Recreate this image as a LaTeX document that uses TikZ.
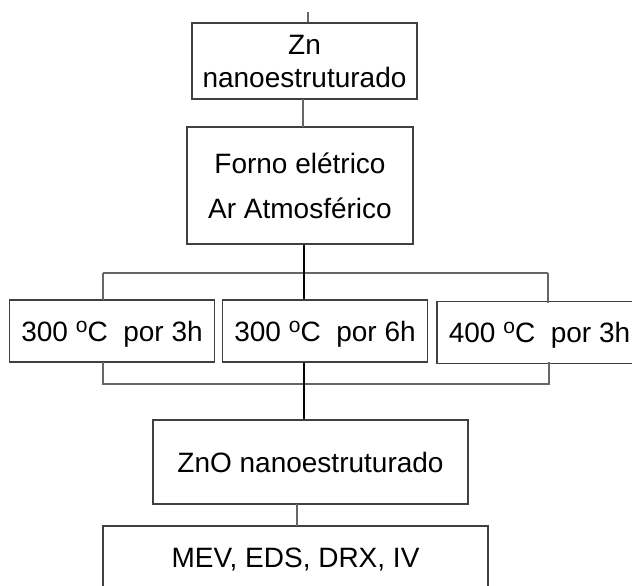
\documentclass[tikz,border=0pt]{standalone}
\usepackage{fontspec}
\setmainfont{Liberation Sans}
\newcommand{\dego}{\raisebox{4.3pt}{\fontsize{10.5}{10.5}\selectfont o}}

\begin{document}
\begin{tikzpicture}[x=0.5pt,y=-0.5pt,
  box/.style={draw=black!75,line width=0.6pt,rectangle,align=center,inner sep=0pt,font=\fontsize{14}{16.5}\selectfont},
  temp/.style={box,minimum width=102.5pt,minimum height=31pt,text height=10pt,text depth=0pt},
  link/.style={draw=black!60,line width=0.6pt},
  spine/.style={draw=black,line width=0.6pt}]
\useasboundingbox (0,0) rectangle (632,585);
\clip (0,0) rectangle (632,585);

\node[box,minimum width=112.5pt,minimum height=38pt] (zn) at (304.5,61) {Zn\\nanoestruturado};
\node[box,minimum width=113pt,minimum height=58.5pt,font=\fontsize{14}{22.5}\selectfont] (forno) at (300,185.5) {Forno elétrico\\Ar Atmosférico};

\node[temp] (t1) at (112,331) {300 \dego C\ \ por 3h};
\node[temp] (t2) at (325,331) {300 \dego C\ \ por 6h};
\node[temp] (t3) at (539.5,332.5) {400 \dego C\ \ por 3h};

\node[box,minimum width=157.5pt,minimum height=42pt] (zno) at (310.5,462) {ZnO nanoestruturado};
\node[box,minimum width=192.5pt,minimum height=34pt] (mev) at (295.5,560) {MEV, EDS, DRX, IV};

\coordinate (top) at (308,12);
\coordinate (up) at (304,273);
\coordinate (down) at (304,384);

\path[link] (top) -- (top |- zn.north);
\path[link] (303,99) -- (303,127);
% branches
\path[link] (103,273) -- (548,273);
\path[link] (103,273) -- (103,300);
\path[link] (548,273) -- (548,303);
\path[link] (103,362) -- (103,384) -- (549,384) -- (549,362);
\path[spine] (up |- forno.south) -- (up |- t2.north);
\path[spine] (down |- t2.south) -- (down |- zno.north);
\path[link] (297,504) -- (297,526);
\end{tikzpicture}
\end{document}
